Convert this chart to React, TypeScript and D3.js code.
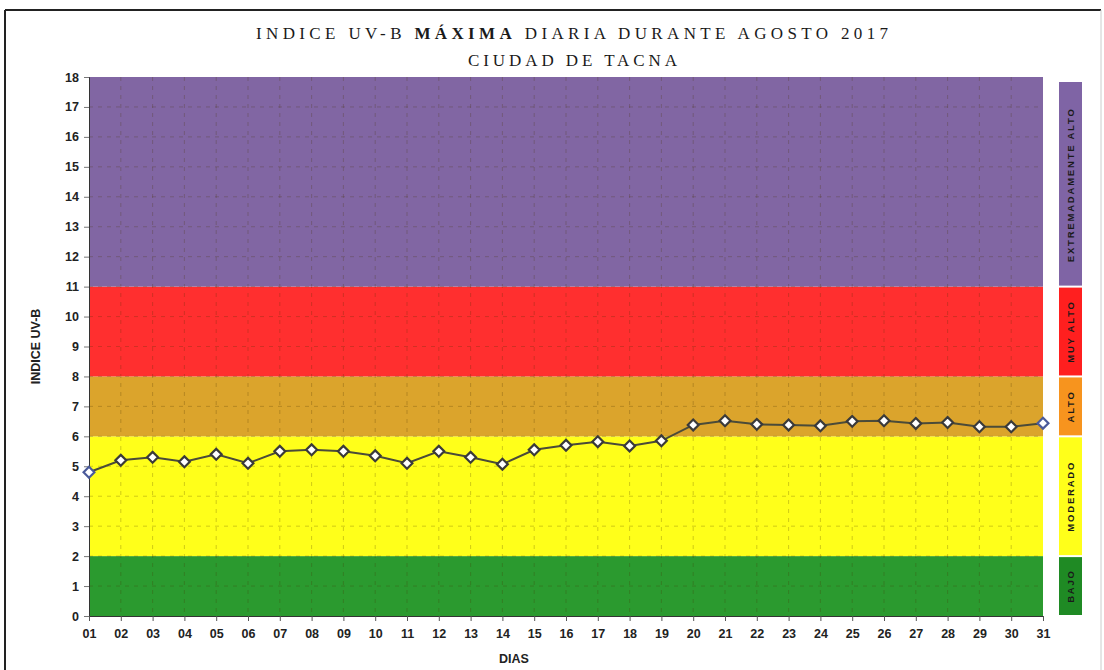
import React, { useEffect, useRef } from 'react';
import * as d3 from 'd3';

// Días del mes y valores máximos diarios del índice UV-B
const days = ['01', '02', '03', '04', '05', '06', '07', '08', '09', '10', '11', '12', '13', '14', '15', '16', '17', '18', '19', '20', '21', '22', '23', '24', '25', '26', '27', '28', '29', '30', '31'];
const uvValues = [4.8, 5.2, 5.3, 5.15, 5.4, 5.1, 5.5, 5.55, 5.5, 5.35, 5.1, 5.5, 5.3, 5.07, 5.55, 5.7, 5.82, 5.68, 5.85, 6.38, 6.52, 6.4, 6.38, 6.35, 6.5, 6.52, 6.43, 6.46, 6.32, 6.32, 6.44];

// Niveles de riesgo
const levelLabels = ['BAJO', 'MODERADO', 'ALTO', 'MUY ALTO', 'EXTREMADAMENTE ALTO'];
const levelFrom = [0, 2, 6, 8, 11];
const levelTo = [2, 6, 8, 11, 18];
const yTicks = d3.range(0, 19);

const bandColors = ['#2b9a2f', '#ffff1a', '#dba42c', '#ff2f2f', '#8166a3'];
const legendColors = ['#1f8a24', '#ffff1a', '#f7941e', '#ff1f1f', '#7f64a5'];

const App = () => {
  const ref = useRef<SVGSVGElement | null>(null);

  useEffect(() => {
    const svg = d3.select(ref.current);
    svg.selectAll('*').remove();

    const left = 89, right = 1043, top = 77, bottom = 616;

    const x = d3.scalePoint().domain(days).range([left, right]);
    const y = d3.scaleLinear().domain([0, 18]).range([bottom, top]);

    // marco exterior
    svg.append('line').attr('x1', 5).attr('x2', 1101).attr('y1', 10).attr('y2', 10)
      .attr('stroke', '#222').attr('stroke-width', 2);
    svg.append('line').attr('x1', 5).attr('x2', 5).attr('y1', 10).attr('y2', 670)
      .attr('stroke', '#222').attr('stroke-width', 2);
    svg.append('line').attr('x1', 1101).attr('x2', 1101).attr('y1', 10).attr('y2', 670)
      .attr('stroke', '#ccc').attr('stroke-width', 1);

    // título
    const title = svg.append('text')
      .attr('x', 256).attr('y', 39)
      .attr('textLength', 632)
      .attr('lengthAdjust', 'spacing')
      .attr('font-family', '"Liberation Serif", serif')
      .attr('font-size', 17)
      .attr('fill', '#1a1a1a');
    title.append('tspan').text('INDICE UV-B ');
    title.append('tspan').attr('font-weight', 'bold').text('MÁXIMA');
    title.append('tspan').text(' DIARIA DURANTE AGOSTO 2017');
    svg.append('text')
      .attr('x', 468).attr('y', 66)
      .attr('textLength', 209)
      .attr('lengthAdjust', 'spacing')
      .attr('font-family', '"Liberation Serif", serif')
      .attr('font-size', 17)
      .attr('fill', '#1a1a1a')
      .text('CIUDAD DE TACNA');

    // bandas de fondo
    svg.append('g').selectAll('rect')
      .data(levelLabels)
      .enter()
      .append('rect')
      .attr('x', left)
      .attr('width', right - left)
      .attr('y', (d, i) => y(levelTo[i]))
      .attr('height', (d, i) => y(levelFrom[i]) - y(levelTo[i]))
      .attr('fill', (d, i) => bandColors[i]);

    // rejilla
    const grid = svg.append('g')
      .attr('stroke', 'rgba(70,50,0,0.25)')
      .attr('stroke-width', 1)
      .attr('stroke-dasharray', '4,5');
    grid.selectAll('.h')
      .data(yTicks.slice(1, -1))
      .enter()
      .append('line')
      .attr('x1', left).attr('x2', right)
      .attr('y1', d => y(d)).attr('y2', d => y(d));
    grid.selectAll('.v')
      .data(days.slice(1, -1))
      .enter()
      .append('line')
      .attr('x1', d => x(d)!).attr('x2', d => x(d)!)
      .attr('y1', top).attr('y2', bottom);

    // eje Y
    const yAxis = svg.append('g')
      .attr('transform', `translate(${left},0)`)
      .call(d3.axisLeft(y).tickValues(yTicks).tickSize(5).tickPadding(5).tickFormat(d3.format('d')));
    yAxis.select('.domain').attr('stroke', '#333');
    yAxis.selectAll('.tick line').attr('stroke', '#777');
    yAxis.selectAll('text')
      .attr('font-family', '"Liberation Sans", Arial, sans-serif')
      .attr('font-weight', 'bold')
      .attr('font-size', 12.5)
      .attr('fill', '#222');

    // eje X
    const xAxis = svg.append('g')
      .attr('transform', `translate(0,${bottom})`)
      .call(d3.axisBottom(x).tickSize(5).tickPadding(8));
    xAxis.select('.domain').attr('stroke', '#333');
    xAxis.selectAll('.tick line').attr('stroke', '#555');
    xAxis.selectAll('text')
      .attr('font-family', '"Liberation Sans", Arial, sans-serif')
      .attr('font-weight', 'bold')
      .attr('font-size', 12.5)
      .attr('fill', '#222');

    // títulos de ejes
    svg.append('text')
      .attr('transform', `translate(40,${(top + bottom) / 2}) rotate(-90)`)
      .attr('text-anchor', 'middle')
      .attr('font-family', '"Liberation Sans", Arial, sans-serif')
      .attr('font-weight', 'bold')
      .attr('font-size', 12.5)
      .attr('fill', '#222')
      .text('INDICE  UV-B');
    svg.append('text')
      .attr('x', 514).attr('y', 663)
      .attr('text-anchor', 'middle')
      .attr('font-family', '"Liberation Sans", Arial, sans-serif')
      .attr('font-weight', 'bold')
      .attr('font-size', 12.5)
      .attr('fill', '#222')
      .text('DIAS');

    // línea de datos
    const line = d3.line<number>()
      .x((d, i) => x(days[i])!)
      .y(d => y(d));
    svg.append('path')
      .datum(uvValues)
      .attr('d', line)
      .attr('fill', 'none')
      .attr('stroke', '#4b4b38')
      .attr('stroke-width', 2);

    svg.append('g').selectAll('path')
      .data(uvValues)
      .enter()
      .append('path')
      .attr('d', d3.symbol().type(d3.symbolDiamond2).size(75))
      .attr('transform', (d, i) => `translate(${x(days[i])},${y(d)})`)
      .attr('fill', '#fff')
      .attr('stroke', (d, i) => (i === 0 || i === days.length - 1 ? '#4a5a9a' : '#3a3a3a'))
      .attr('stroke-width', 2.2);

    // leyenda lateral
    const lx = 1059, lw = 23;
    const legend = svg.append('g');
    legend.selectAll('rect')
      .data(levelLabels)
      .enter()
      .append('rect')
      .attr('x', lx)
      .attr('width', lw)
      .attr('y', (d, i) => y(levelTo[i]) + (i === levelLabels.length - 1 ? 5 : 1))
      .attr('height', (d, i) => y(levelFrom[i]) - y(levelTo[i]) - (i === levelLabels.length - 1 ? 6 : 2))
      .attr('fill', (d, i) => legendColors[i]);
    legend.selectAll('text')
      .data(levelLabels)
      .enter()
      .append('text')
      .attr('transform', (d, i) => `translate(${lx + lw / 2 + 3.5},${(y(levelTo[i]) + y(levelFrom[i])) / 2 + (i === levelLabels.length - 1 ? 3 : 0)}) rotate(-90)`)
      .attr('text-anchor', 'middle')
      .attr('font-family', '"Liberation Sans", Arial, sans-serif')
      .attr('font-weight', 'bold')
      .attr('font-size', 9.5)
      .attr('letter-spacing', 1.8)
      .attr('fill', '#1a1a1a')
      .text(d => d);
  }, []);

  return (
    <svg
      ref={ref}
      width={1104}
      height={670}
      style={{ position: 'absolute', left: 0, top: 0, background: '#fff' }}
    />
  );
};

export default App;
